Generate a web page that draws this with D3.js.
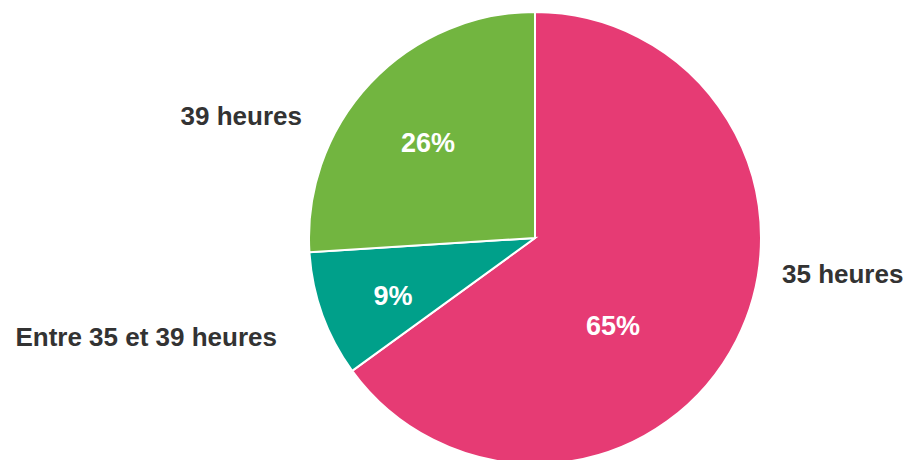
<!DOCTYPE html>
<html>
<head>
<meta charset="utf-8">
<script src="https://cdn.jsdelivr.net/npm/d3@7"></script>
<style>
  body { margin: 0; background: #fff; }
  svg { display: block; font-family: "Liberation Sans", Arial, sans-serif; }
</style>
</head>
<body>
<div id="chart"></div>
<script>
// data
const categories = ['35 heures', 'Entre 35 et 39 heures', '39 heures'];
const values = [65, 9, 26];
const colors = ['#e63b74', '#00a08a', '#72b540'];

const width = 910;
const height = 460;
const cx = 535, cy = 238;
const radius = 226;

// label placement (pixels relative to pie centre), not data
const nameLayout = [
    { dx: 247, dy: 45, anchor: 'start' },
    { dx: -258, dy: 108, anchor: 'end' },
    { dx: -233, dy: -113, anchor: 'end' }
];
const pctLayout = [
    { dx: 78, dy: 97 },
    { dx: -142, dy: 67 },
    { dx: -107, dy: -86 }
];

const table = categories.map((c, i) => ({ name: c, value: values[i], i: i }));

const svg = d3.select('#chart').append('svg')
    .attr('width', width)
    .attr('height', height);

const pie = d3.pie()
    .sort(null)
    .value(d => d.value);

const arc = d3.arc()
    .innerRadius(0)
    .outerRadius(radius);

const g = svg.append('g')
    .attr('transform', `translate(${cx},${cy})`);

g.selectAll('.slice')
    .data(pie(table))
    .enter().append('path')
    .attr('class', 'slice')
    .attr('d', arc)
    .attr('fill', d => colors[d.data.i])
    .attr('stroke', '#fff')
    .attr('stroke-width', 2);

// percentages inside slices
g.selectAll('.pct')
    .data(table)
    .enter().append('text')
    .attr('class', 'pct')
    .attr('x', d => pctLayout[d.i].dx)
    .attr('y', d => pctLayout[d.i].dy)
    .attr('text-anchor', 'middle')
    .attr('fill', '#fff')
    .style('font-size', '27px')
    .style('font-weight', 'bold')
    .text(d => d.value + '%');

// category names outside
g.selectAll('.name')
    .data(table)
    .enter().append('text')
    .attr('class', 'name')
    .attr('x', d => nameLayout[d.i].dx)
    .attr('y', d => nameLayout[d.i].dy)
    .attr('text-anchor', d => nameLayout[d.i].anchor)
    .attr('fill', '#333')
    .style('font-size', '26px')
    .style('font-weight', 'bold')
    .text(d => d.name);
</script>
</body>
</html>
